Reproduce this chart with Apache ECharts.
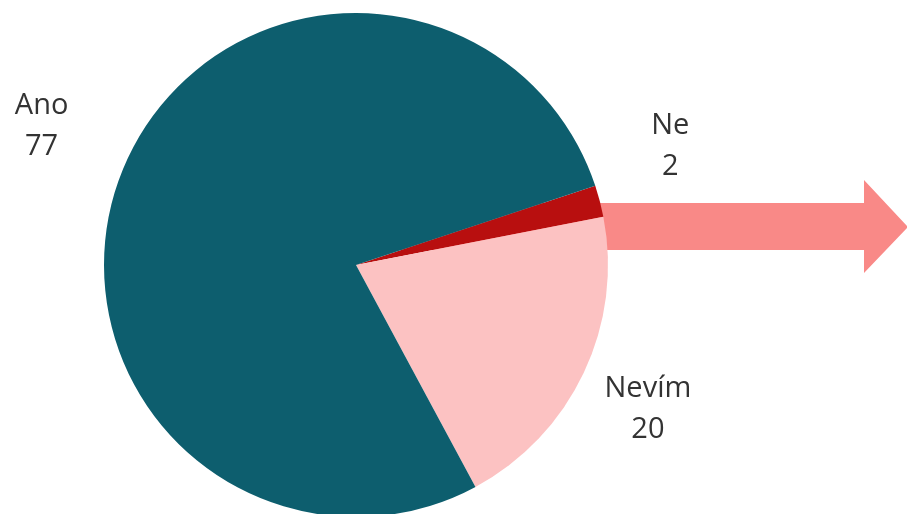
<!DOCTYPE html>
<html>
<head>
<meta charset="utf-8">
<script src="https://cdn.jsdelivr.net/npm/echarts@6/dist/echarts.min.js"></script>
<style>
  html, body { margin: 0; padding: 0; background: #ffffff; }
  #chart { width: 907px; height: 514px; }
</style>
</head>
<body>
<div id="chart"></div>
<script>
// Answer categories and counts
const categories = ['Ne', 'Nevím', 'Ano'];
const counts = [2, 20, 77];
const sliceColors = ['#b80f0f', '#fcc2c2', '#0d5e6e'];

const chart = echarts.init(document.getElementById('chart'), null, { renderer: 'canvas' });

const center = [356, 265];
const radius = 252;
const startAngle = 18.3;
const labelDistance = 1.33;          // label centre, as a multiple of the radius
const labelNudge = [[-10, -34], [-11, 1], [-3, -15]];

// mid angle of every slice (degrees, clockwise from startAngle)
const total = counts.reduce((a, b) => a + b, 0);
const midAngles = [];
let acc = startAngle;
counts.forEach(v => {
  const span = v / total * 360;
  midAngles.push(acc - span / 2);
  acc -= span;
});

const arrowColor = '#f98987';

chart.setOption({
  animation: false,
  graphic: [{
    type: 'polygon',
    z: 0,
    shape: {
      points: [[360, 203], [864, 203], [864, 180], [908, 227], [864, 273], [864, 250], [360, 250]]
    },
    style: { fill: arrowColor }
  }],
  series: [{
    type: 'pie',
    z: 2,
    center: center,
    radius: radius,
    startAngle: startAngle,
    clockwise: true,
    avoidLabelOverlap: false,
    data: categories.map((name, i) => ({
      name: name,
      value: counts[i],
      itemStyle: { color: sliceColors[i] }
    })),
    itemStyle: { borderWidth: 0 },
    label: {
      show: true,
      position: 'outside',
      formatter: '{b}\n{c}',
      fontFamily: 'Open Sans',
      fontSize: 29,
      lineHeight: 41,
      color: '#333333',
      align: 'center'
    },
    labelLine: { show: false },
    labelLayout: function (p) {
      const a = midAngles[p.dataIndex] * Math.PI / 180;
      const d = radius * labelDistance;
      const n = labelNudge[p.dataIndex];
      return {
        x: center[0] + d * Math.cos(a) + n[0],
        y: center[1] - d * Math.sin(a) + n[1],
        align: 'center',
        verticalAlign: 'middle'
      };
    },
    emphasis: { disabled: true }
  }]
});
</script>
</body>
</html>
